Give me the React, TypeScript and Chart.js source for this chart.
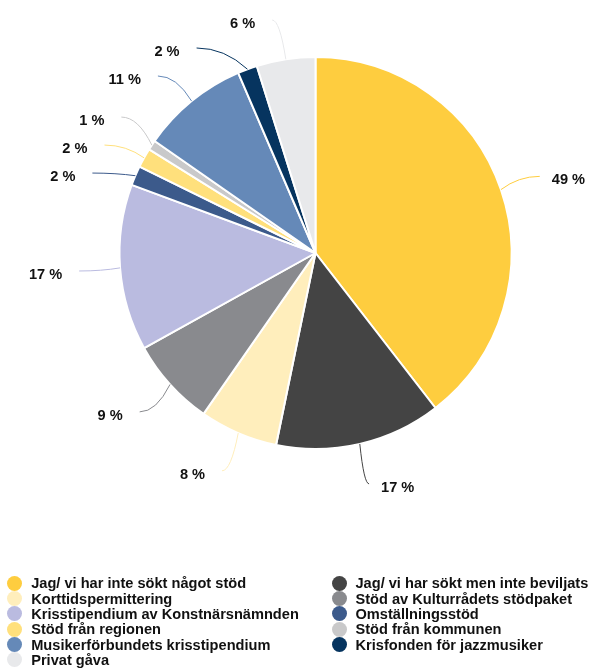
import React, { useEffect, useRef } from "react";
import { Chart, registerables } from "chart.js";

Chart.register(...registerables);

const categories = [
  "Jag/ vi har inte sökt något stöd",
  "Jag/ vi har sökt men inte beviljats",
  "Korttidspermittering",
  "Stöd av Kulturrådets stödpaket",
  "Krisstipendium av Konstnärsnämnden",
  "Omställningsstöd",
  "Stöd från regionen",
  "Stöd från kommunen",
  "Musikerförbundets krisstipendium",
  "Krisfonden för jazzmusiker",
  "Privat gåva",
];

const values = [49, 17, 8, 9, 17, 2, 2, 1, 11, 2, 6];

const colors = [
  "#FECD3F",
  "#444444",
  "#FFEEBC",
  "#898A8E",
  "#BABBE0",
  "#3C5A8B",
  "#FFE07C",
  "#C9C9CA",
  "#6589B8",
  "#06345F",
  "#E8E9EB",
];

const valueLabels = values.map((v) => `${v} %`);

const FONT = '"Liberation Sans", Arial, sans-serif';

const leaderPlugin = {
  id: "leaderLabels",
  afterDatasetsDraw(chart: any) {
    const meta = chart.getDatasetMeta(0);
    const ctx = chart.ctx as CanvasRenderingContext2D;
    const items = meta.data.map((arc: any, i: number) => {
      const p = arc.getProps(["x", "y", "startAngle", "endAngle", "outerRadius"], true);
      const mid = (p.startAngle + p.endAngle) / 2;
      const R = p.outerRadius;
      const RL = R + 41;
      return {
        i,
        cx: p.x,
        cy: p.y,
        RL,
        sx: p.x + Math.cos(mid) * R,
        sy: p.y + Math.sin(mid) * R,
        ex: p.x + Math.cos(mid) * RL,
        ey: p.y + Math.sin(mid) * RL,
        right: Math.cos(mid) >= 0,
      };
    });

    const gap = 28;
    const minY = 20;
    for (const side of [true, false]) {
      const group = items.filter((it: any) => it.right === side).sort((a: any, b: any) => a.ey - b.ey);
      for (let iter = 0; iter < 300; iter++) {
        let moved = false;
        for (let k = 1; k < group.length; k++) {
          const a = group[k - 1];
          const b = group[k];
          const d = b.ey - a.ey;
          if (d < gap - 0.01) {
            const s = gap - d;
            a.ey -= s * 0.3;
            b.ey += s * 0.7;
            moved = true;
          }
        }
        for (const it of group) {
          if (it.ey < minY) {
            it.ey = minY;
          }
        }
        if (!moved) break;
      }
      for (const it of group) {
        const dy = it.ey - it.cy;
        const dx = Math.sqrt(Math.max(it.RL * it.RL - dy * dy, 0));
        it.ex = it.cx + (side ? dx : -dx);
      }
    }

    ctx.save();
    for (const it of items) {
      const cpx = it.sx + 0.45 * (it.ex - it.sx);
      const cpy = it.ey;
      ctx.beginPath();
      ctx.moveTo(it.sx, it.sy);
      ctx.quadraticCurveTo(cpx, cpy, it.ex, it.ey);
      ctx.strokeStyle = colors[it.i];
      ctx.lineWidth = 1;
      ctx.stroke();

      ctx.font = `bold 14.6px ${FONT}`;
      ctx.fillStyle = "#111111";
      ctx.textBaseline = "middle";
      if (it.right) {
        ctx.textAlign = "left";
        ctx.fillText(valueLabels[it.i], it.ex + 12, it.ey + 4);
      } else {
        ctx.textAlign = "right";
        ctx.fillText(valueLabels[it.i], it.ex - 17, it.ey + 4);
      }
    }
    ctx.restore();
  },
};

export default function App() {
  const ref = useRef<HTMLCanvasElement | null>(null);

  useEffect(() => {
    if (!ref.current) return;
    const chart = new Chart(ref.current, {
      type: "pie",
      data: {
        labels: categories,
        datasets: [
          {
            data: values,
            backgroundColor: colors,
            borderColor: "#ffffff",
            borderWidth: 2,
            radius: 196,
          } as any,
        ],
      },
      options: {
        responsive: false,
        animation: false,
        layout: { padding: { left: 40, right: 0, top: 0, bottom: 165 } },
        plugins: {
          legend: { display: false },
          tooltip: { enabled: false },
        },
      },
      plugins: [leaderPlugin],
    });
    return () => chart.destroy();
  }, []);

  const rowTop = 583.3;
  const rowStep = 15.3;

  return (
    <div style={{ position: "fixed", left: 0, top: 0, width: 591, height: 671, background: "#ffffff" }}>
      <canvas ref={ref} width={591} height={671} style={{ position: "absolute", left: 0, top: 0, width: 591, height: 671 }} />
      {categories.map((c, i) => {
        const col = i % 2;
        const row = Math.floor(i / 2);
        const cx = col === 0 ? 14.7 : 339;
        const cy = rowTop + row * rowStep;
        return (
          <div
            key={c}
            style={{
              position: "absolute",
              left: cx - 7.5,
              top: cy - 8,
              height: 16,
              display: "flex",
              alignItems: "center",
              whiteSpace: "nowrap",
              fontFamily: FONT,
              fontWeight: "bold",
              fontSize: "14.6px",
              color: "#111111",
              lineHeight: "16px",
            }}
          >
            <span
              style={{
                display: "inline-block",
                width: 15,
                height: 15,
                borderRadius: "50%",
                background: colors[i],
                marginRight: 9,
                flex: "0 0 auto",
              }}
            />
            <span>{c}</span>
          </div>
        );
      })}
    </div>
  );
}
